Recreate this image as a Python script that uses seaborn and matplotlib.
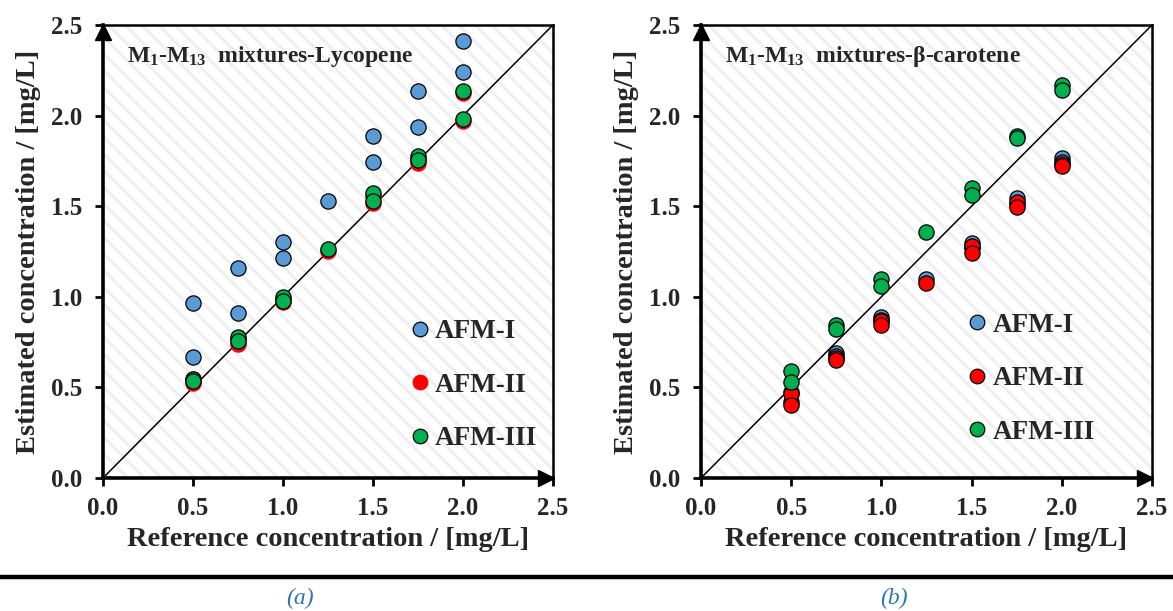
import numpy as np
import pandas as pd
import matplotlib
matplotlib.use("Agg")
import matplotlib.pyplot as plt
import seaborn as sns
from matplotlib.lines import Line2D
from matplotlib.patches import Rectangle

# ---------------- data ----------------
ref_conc = [0.5, 0.5, 0.75, 0.75, 1.0, 1.0, 1.25, 1.5, 1.5, 1.75, 1.75, 2.0, 2.0]

lyc_afm1 = [0.967, 0.669, 1.157, 0.912, 1.304, 1.214, 1.529, 1.888, 1.746, 2.138, 1.939, 2.414, 2.240]
lyc_afm2 = [0.545, 0.525, 0.765, 0.742, 0.990, 0.972, 1.252, 1.558, 1.519, 1.760, 1.740, 2.127, 1.972]
lyc_afm3 = [0.549, 0.535, 0.776, 0.755, 0.998, 0.978, 1.262, 1.571, 1.529, 1.777, 1.755, 2.138, 1.982]

bc_afm1 = [0.475, 0.420, 0.691, 0.675, 0.890, 0.870, 1.100, 1.298, 1.270, 1.544, 1.510, 1.765, 1.745]
bc_afm2 = [0.466, 0.402, 0.660, 0.650, 0.867, 0.844, 1.074, 1.280, 1.240, 1.525, 1.494, 1.733, 1.720]
bc_afm3 = [0.591, 0.530, 0.844, 0.820, 1.096, 1.059, 1.356, 1.599, 1.562, 1.888, 1.875, 2.170, 2.142]

series_names = ["AFM-I", "AFM-II", "AFM-III"]
ticks = [0.0, 0.5, 1.0, 1.5, 2.0, 2.5]
tick_labels = ["0.0", "0.5", "1.0", "1.5", "2.0", "2.5"]
titles = ["M$_1$-M$_{13}$  mixtures-Lycopene", "M$_1$-M$_{13}$  mixtures-\u03b2-carotene"]
captions = ["(a)", "(b)"]
xlabel = "Reference concentration / [mg/L]"
ylabel = "Estimated concentration / [mg/L]"

colors = {"AFM-I": "#5B9BD5", "AFM-II": "#FF0000", "AFM-III": "#00B050"}


def to_long(afm1, afm2, afm3):
    frames = []
    for name, vals in zip(series_names, [afm1, afm2, afm3]):
        frames.append(pd.DataFrame({"ref": ref_conc, "est": vals, "series": name}))
    return pd.concat(frames, ignore_index=True)


df_lyc = to_long(lyc_afm1, lyc_afm2, lyc_afm3)
df_bc = to_long(bc_afm1, bc_afm2, bc_afm3)

# ---------------- style ----------------
sns.set_style("white")
plt.rcParams["font.family"] = ["Liberation Serif", "DejaVu Serif"]
plt.rcParams["mathtext.fontset"] = "custom"
plt.rcParams["mathtext.rm"] = "Liberation Serif:bold"
plt.rcParams["mathtext.bf"] = "Liberation Serif:bold"
plt.rcParams["mathtext.it"] = "Liberation Serif:bold:italic"
plt.rcParams["hatch.linewidth"] = 2.2

fig = plt.figure(figsize=(11.73, 6.11), dpi=100)
ax_l = fig.add_axes([0.0878, 0.2177, 0.3836, 0.7414])
ax_r = fig.add_axes([0.5976, 0.2177, 0.3845, 0.7414])

edge_left = {"AFM-I": "black", "AFM-II": "#FF0000", "AFM-III": "black"}
edge_right = {"AFM-I": "black", "AFM-II": "black", "AFM-III": "black"}

panels = [
    (ax_l, df_lyc, edge_left, titles[0], (0.645, 0.205)),
    (ax_r, df_bc, edge_right, titles[1], (0.553, 0.219)),
]

for ax, df, edges, title, leg_pos in panels:
    # hatched background
    bg = Rectangle((0, 0), 1, 1, transform=ax.transAxes, facecolor="white",
                   edgecolor="#efefef", hatch="\\\\", linewidth=0, zorder=0)
    ax.add_patch(bg)

    ax.axline((0, 0), slope=1, color="black", lw=1.1, zorder=1)

    for name in series_names:
        sub = df[df["series"] == name]
        sns.scatterplot(data=sub, x="ref", y="est", ax=ax, color=colors[name],
                        edgecolor=edges[name], linewidth=0.9, s=120, zorder=3,
                        legend=False)

    ax.set_xlim(0, 2.5)
    ax.set_ylim(0, 2.5)
    ax.set_xticks(ticks)
    ax.set_yticks(ticks)
    ax.set_xticklabels(tick_labels, fontsize=18, fontweight="bold")
    ax.set_yticklabels(tick_labels, fontsize=18, fontweight="bold")
    ax.tick_params(axis="both", direction="out", length=6, width=2, color="black",
                   bottom=True, left=True, top=False, right=False)
    ax.tick_params(axis="x", pad=8)
    ax.tick_params(axis="y", pad=9)
    ax.set_xlabel(xlabel, fontsize=20.5, fontweight="bold", labelpad=5)
    ax.set_ylabel(ylabel, fontsize=20.5, fontweight="bold", labelpad=7)

    for side in ["left", "bottom"]:
        ax.spines[side].set_linewidth(2.6)
        ax.spines[side].set_color("black")
    for side in ["top", "right"]:
        ax.spines[side].set_linewidth(1.8)
        ax.spines[side].set_color("black")
        ax.spines[side].set_visible(True)

    # axis arrows
    ax.plot([0.985], [0], marker=">", color="black", markersize=12,
            transform=ax.transAxes, clip_on=False, zorder=6)
    ax.plot([0], [0.985], marker="^", color="black", markersize=12,
            transform=ax.transAxes, clip_on=False, zorder=6)

    ax.text(0.053, 0.93, title, transform=ax.transAxes, fontsize=17,
            fontweight="bold", ha="left", va="center", zorder=5)

    handles = [Line2D([], [], marker="o", linestyle="", markersize=10.5,
                      markerfacecolor=colors[n],
                      markeredgecolor=("#FF0000" if (edges is edge_left and n == "AFM-II") else "black"),
                      markeredgewidth=0.9) for n in series_names]
    ax.legend(handles, series_names, loc="center left", bbox_to_anchor=leg_pos,
              frameon=False, labelspacing=1.05, handletextpad=0.05,
              handlelength=1.0, borderpad=0,
              prop={"family": "Liberation Serif", "weight": "bold", "size": 19.5})

# separator line and captions
fig.add_artist(Line2D([0, 1], [0.0556, 0.0556], transform=fig.transFigure,
                      color="black", lw=3.2))
fig.text(300 / 1173, 0.021, captions[0], ha="center", va="center", fontsize=17,
         style="italic", color="#2E75B6")
fig.text(894 / 1173, 0.021, captions[1], ha="center", va="center", fontsize=17,
         style="italic", color="#2E75B6")

fig.savefig("out.png", dpi=100)
